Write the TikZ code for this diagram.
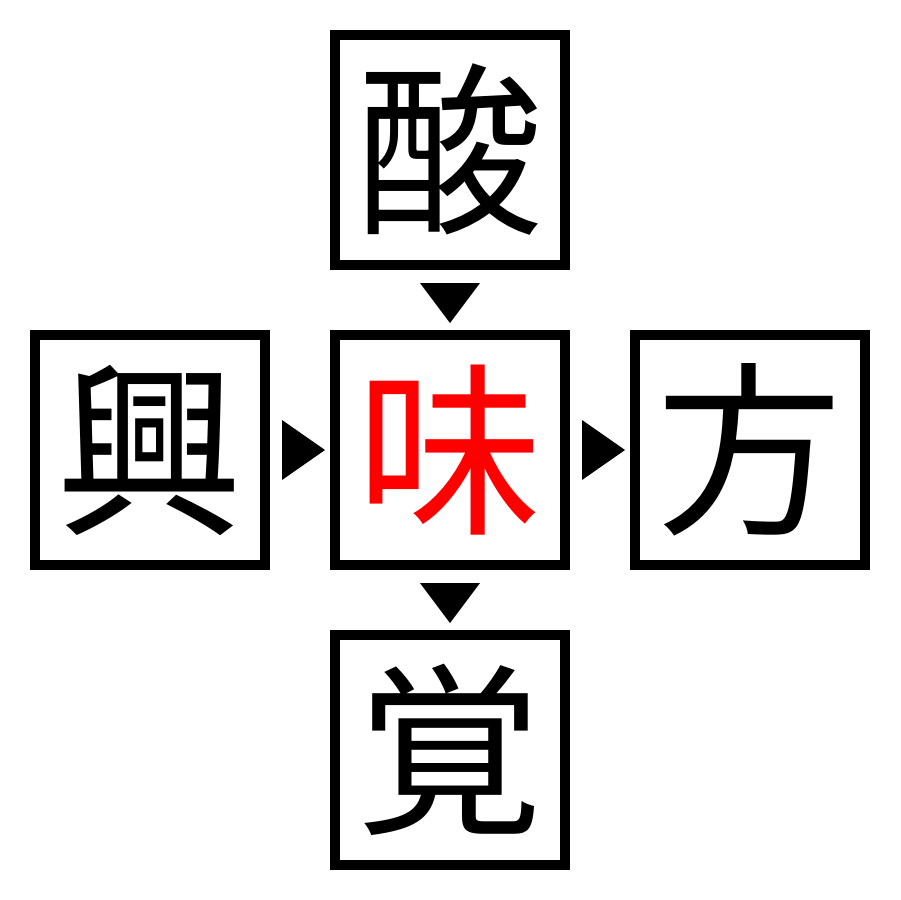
\documentclass[tikz,border=0pt]{standalone}
\usepackage{fontspec}
\newfontfamily\cjk{Noto Sans CJK JP}
\begin{document}
\begin{tikzpicture}[x=0.02cm,y=-0.02cm,
  cell/.style={draw=black,line width=0.2cm,minimum size=4.6cm,inner sep=0pt,font=\cjk\fontsize{106}{106}\selectfont},
  tri/.style={fill=black}]
\useasboundingbox (0,0) rectangle (900,900);
\fill[white] (0,0) rectangle (900,900);
\node[cell] (top) at (450,150) {酸};
\node[cell] (mid) at (450,450) {\textcolor{red}{味}};
\node[cell] (left) at (150,450) {興};
\node[cell] (right) at (750,450) {方};
\node[cell] (bot) at (450,750) {覚};
\fill[tri] (420,283) -- (480,283) -- (450,323) -- cycle;
\fill[tri] (420,583) -- (480,583) -- (450,623) -- cycle;
\fill[tri] (282,420) -- (282,480) -- (325,450) -- cycle;
\fill[tri] (582,420) -- (582,480) -- (625,450) -- cycle;
\end{tikzpicture}
\end{document}
